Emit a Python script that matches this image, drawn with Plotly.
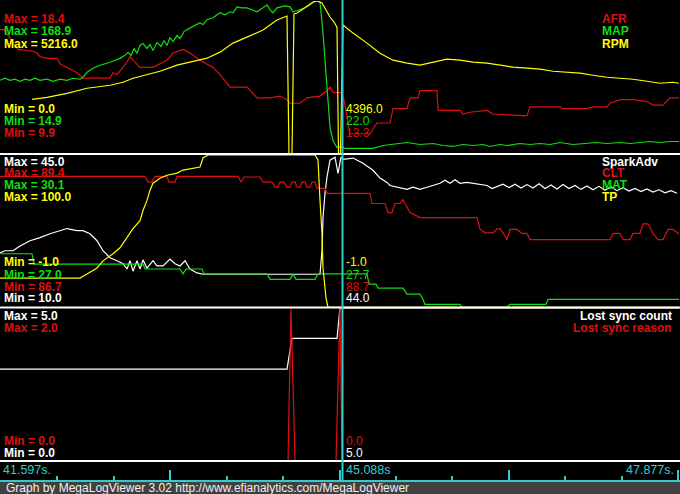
import plotly.graph_objects as go

W, H = 680, 494

# ---------------- data (x = log record index, y = channel values) ----------------
rec_range = [0, 680]
cursor_rec = 342.5
time_labels = ["41.597s.", "45.088s", "47.877s."]

# Panel 1: AFR / MAP / RPM
p1_names = ["AFR", "MAP", "RPM"]
p1_max = [18.4, 168.9, 5216.0]
p1_min = [9.9, 14.9, 0.0]
p1_cursor = [13.3, 22.0, 4396.0]

afr = [(0, 16.8), (4, 16.8), (18, 15.7), (33, 15.6), (37, 15.5), (40, 15.3), (47, 15.2), (57, 15.2),
       (60, 14.9), (67, 14.7), (77, 14.4), (83, 14.1), (110, 14.1), (113, 14.4), (117, 14.3), (123, 14.7),
       (127, 15.0), (130, 15.3), (133, 15.1), (140, 14.7), (153, 14.7), (160, 14.9), (167, 15.1),
       (173, 15.5), (183, 15.7), (190, 15.5), (200, 15.1), (213, 14.7), (220, 14.3), (230, 13.6),
       (247, 13.6), (257, 13.0), (270, 13.0), (280, 13.1), (287, 12.9), (290, 12.7), (300, 12.7),
       (307, 13.0), (320, 13.1), (327, 13.4), (330, 13.6), (333, 13.3), (341, 13.3), (344, 12.9),
       (350, 11.0), (370, 11.0), (377, 11.6), (390, 11.6), (393, 12.4), (407, 12.4), (410, 13.0),
       (418, 13.0), (420, 13.4), (437, 13.4), (438, 12.3), (460, 12.3), (463, 12.1), (470, 12.2),
       (487, 12.3), (493, 12.1), (527, 12.0), (530, 12.5), (560, 12.5), (563, 12.4), (587, 12.4),
       (593, 12.5), (607, 12.5), (610, 12.7), (620, 12.9), (633, 12.9), (647, 12.8), (653, 12.6),
       (663, 12.6), (670, 13.0), (679, 13.0)]

map_kpa = [(0, 88.8), (5, 90.9), (10, 88.8), (15, 89.9), (20, 87.8), (25, 89.9), (30, 88.8), (35, 90.9),
           (40, 88.8), (47, 89.9), (53, 87.8), (60, 89.9), (67, 88.8), (73, 90.9), (80, 89.9), (83, 91.9),
           (87, 96.9), (93, 101), (100, 104), (110, 107), (120, 111), (125, 114), (128, 117), (131, 114),
           (134, 121), (137, 116), (140, 124), (143, 126), (147, 121), (150, 125), (153, 119), (157, 127),
           (161, 123), (164, 129), (167, 124), (170, 132), (173, 128), (177, 134), (180, 131), (184, 138),
           (187, 140), (193, 143), (197, 145), (200, 147), (203, 145), (207, 150), (213, 152), (217, 155),
           (220, 157), (225, 155), (230, 158), (233, 157), (237, 163), (242, 162), (247, 162), (252, 160),
           (257, 158), (263, 162), (267, 165), (270, 160), (273, 157), (277, 162), (280, 163), (285, 164),
           (290, 163), (293, 158), (297, 159), (300, 160), (305, 162), (310, 165), (314, 168), (317, 168.9),
           (320, 168), (323, 136.5), (327, 85.8), (330, 41.2), (333, 28.1), (337, 21), (341, 22), (345, 20),
           (360, 20), (373, 20), (383, 23), (397, 25), (407, 26), (420, 24), (433, 25), (443, 23), (453, 22),
           (463, 24), (473, 23), (483, 24), (490, 22), (500, 24), (507, 23), (520, 25), (530, 24), (540, 25),
           (550, 24), (560, 26), (573, 24), (585, 25), (595, 26), (607, 25), (620, 26), (630, 25), (640, 26),
           (650, 27), (660, 26), (670, 27), (679, 27)]

rpm = [(32, 1853), (47, 1922), (67, 2059), (87, 2231), (110, 2334), (123, 2437), (133, 2574), (147, 2711),
       (160, 2814), (177, 3020), (193, 3157), (207, 3260), (220, 3466), (233, 3775), (247, 3981),
       (263, 4221), (277, 4565), (287, 4702), (289, 0), (292, 0), (294, 4770), (297, 4805), (303, 4942),
       (313, 5182), (317, 5216), (322, 5148), (326, 4908), (330, 4668), (334, 4496), (337, 4324),
       (338.5, 0), (340.5, 0), (343, 4396), (353, 4118), (367, 3775), (380, 3432), (393, 3192), (407, 3089),
       (420, 3020), (433, 3123), (447, 3226), (460, 3192), (473, 3123), (487, 3089), (500, 3020),
       (513, 2952), (527, 2917), (540, 2883), (553, 2814), (567, 2780), (580, 2746), (593, 2677),
       (607, 2608), (620, 2574), (633, 2540), (647, 2471), (660, 2402), (673, 2437), (679, 2402)]

# Panel 2: SparkAdv / CLT / MAT / TP
p2_names = ["SparkAdv", "CLT", "MAT", "TP"]
p2_max = [45.0, 89.4, 30.1, 100.0]
p2_min = [10.0, 86.7, 27.0, -1.0]
p2_cursor = [44.0, 88.7, 27.7, -1.0]

spark_adv = [(0, 22.5), (5, 23.0), (13, 23.0), (20, 24.1), (30, 25.3), (40, 26.0), (50, 26.9), (60, 27.6),
             (67, 28.1), (77, 27.6), (83, 27.6), (90, 26.9), (97, 25.3), (103, 23.0), (110, 21.4),
             (117, 20.7), (123, 20.0), (127, 18.8), (130, 20.7), (133, 18.3), (137, 20.7), (140, 18.8),
             (143, 20.9), (147, 19.0), (153, 20.7), (157, 19.5), (163, 19.5), (170, 21.1), (175, 20.0),
             (180, 19.5), (185, 20.7), (190, 18.8), (197, 17.9), (203, 17.6), (320, 17.6), (322, 23.0),
             (323, 30.6), (325, 36.2), (327, 39.9), (330, 43.8), (333, 44.3), (335, 44.5), (338, 40.8),
             (341, 44.5), (343, 44.0), (353, 44.3), (363, 43.1), (373, 41.5), (380, 39.7), (387, 38.7),
             (390, 38.0), (397, 37.6), (407, 37.1), (413, 37.6), (420, 37.1), (427, 37.6), (433, 38.0),
             (440, 38.5), (445, 39.2), (450, 38.5), (455, 39.3), (460, 38.5), (467, 38.7), (473, 38.5),
             (480, 38.3), (487, 38.0), (492, 37.3), (497, 37.8), (503, 38.3), (509, 37.5), (515, 38.3),
             (521, 37.4), (527, 38.2), (533, 37.4), (539, 38.4), (545, 37.3), (551, 38.1), (557, 37.2),
             (563, 38.2), (569, 37.3), (575, 38.0), (581, 37.1), (587, 37.9), (593, 37.0), (599, 37.8),
             (605, 36.9), (611, 37.7), (617, 36.8), (623, 37.5), (629, 36.7), (635, 37.3), (641, 36.6),
             (647, 37.2), (653, 36.5), (659, 37.0), (665, 36.3), (671, 36.8), (677, 36.2)]

clt = [(0, 89.02), (145, 89.02), (148, 88.92), (152, 88.92), (155, 89.02), (167, 89.02), (169, 88.92),
       (175, 88.92), (177, 89.02), (238, 89.02), (241, 88.92), (244, 89.01), (260, 89.01), (263, 88.92),
       (272, 88.92), (275, 88.83), (278, 88.83), (280, 88.92), (284, 88.92), (287, 88.83), (290, 88.83),
       (292, 88.92), (295, 88.92), (297, 88.83), (300, 88.83), (302, 88.92), (305, 88.92), (307, 88.83),
       (310, 88.83), (312, 88.92), (315, 88.92), (317, 88.81), (325, 88.81), (327, 88.72), (370, 88.72),
       (372, 88.54), (385, 88.54), (388, 88.38), (392, 88.38), (395, 88.54), (400, 88.54), (403, 88.61),
       (405, 88.54), (410, 88.38), (420, 88.29), (477, 88.29), (480, 88.09), (485, 88.02), (493, 88.02),
       (497, 88.09), (500, 88.09), (503, 88.02), (507, 87.90), (510, 88.08), (517, 88.08), (522, 88.01),
       (527, 88.01), (530, 87.90), (610, 87.90), (613, 88.01), (620, 88.01), (623, 87.90), (630, 87.90),
       (633, 88.01), (640, 88.01), (643, 88.18), (648, 88.18), (653, 88.01), (658, 87.90), (663, 87.90),
       (668, 88.08), (673, 88.08), (679, 88.0)]

mat = [(0, 28.09), (32, 28.09), (34, 27.88), (143, 27.88), (145, 27.78), (180, 27.78), (183, 27.68),
       (186, 27.78), (202, 27.78), (204, 27.68), (267, 27.68), (270, 27.57), (290, 27.57), (293, 27.68),
       (296, 27.57), (315, 27.57), (318, 27.68), (343, 27.68), (367, 27.68), (369, 27.47), (376, 27.47),
       (378, 27.39), (403, 27.39), (407, 27.27), (420, 27.27), (423, 27.16), (425, 27.06), (460, 27.06),
       (462, 27.0), (507, 27.0), (510, 27.06), (546, 27.06), (548, 27.16), (679, 27.16)]

tp = [(0, 18.4), (80, 18.4), (87, 21.1), (97, 25.1), (103, 29.8), (113, 34.5), (120, 38.5), (127, 45.2),
      (133, 51.2), (140, 56.5), (143, 63.2), (147, 69.9), (150, 76.6), (153, 81.3), (160, 84.6),
      (167, 86.6), (177, 88.0), (183, 90.0), (200, 92.0), (203, 98.0), (208, 100), (315, 100),
      (318, 96.7), (320, 69.9), (322, 47.8), (323, 25.1), (326, 5.0), (328, -1), (679, -1)]

# Panel 3: Lost sync count / reason
p3_names = ["Lost sync count", "Lost sync reason"]
p3_max = [5.0, 2.0]
p3_min = [0.0, 0.0]
p3_cursor = [5.0, 0.0]

lost_sync_count = [(0, 3), (287, 3), (292, 4), (337, 4), (340, 5), (679, 5)]
lost_sync_reason = [(0, 0), (288, 0), (291, 2), (295, 0), (336, 0), (340, 2), (342, 0), (679, 0)]

# ---------------- styling ----------------
RED, GREEN, YELLOW, WHITE, CYAN = "#dd1010", "#10dd10", "#ffff00", "#ffffff", "#33cccc"
FONT = "Liberation Sans, Arial, sans-serif"


def py(p):
    return 1 - p / H


def pxf(p):
    return p / W


panels = [
    dict(top=1, bot=153.5, names=p1_names, mx=p1_max, mn=p1_min, cur=p1_cursor,
         series=[afr, map_kpa, rpm], colors=[RED, GREEN, YELLOW],
         max_rows=[18.5, 31, 43.5], min_rows=[108.5, 121, 133], leg_x=600, leg_align="left"),
    dict(top=155, bot=307.3, names=p2_names, mx=p2_max, mn=p2_min, cur=p2_cursor,
         series=[spark_adv, clt, mat, tp], colors=[WHITE, RED, GREEN, YELLOW],
         max_rows=[162, 173.5, 185.5, 197.5], min_rows=[262, 274.5, 286.5, 298], leg_x=600, leg_align="left"),
    dict(top=307.8, bot=461, names=p3_names, mx=p3_max, mn=p3_min, cur=p3_cursor,
         series=[lost_sync_count, lost_sync_reason], colors=[WHITE, RED],
         max_rows=[315.5, 327.5], min_rows=[440.5, 452.5], leg_x=674, leg_align="right"),
]

fig = go.Figure()
layout_axes = {}
annotations = []
axis_n = 0
for p in panels:
    base_name = None
    for i, (ser, col) in enumerate(zip(p["series"], p["colors"])):
        axis_n += 1
        yname = "y" if axis_n == 1 else f"y{axis_n}"
        lname = "yaxis" if axis_n == 1 else f"yaxis{axis_n}"
        ax = dict(range=[p["mn"][i], p["mx"][i]], visible=False, showgrid=False, zeroline=False,
                  fixedrange=True)
        if base_name is None:
            base_name = yname
            ax["domain"] = [py(p["bot"]), py(p["top"])]
            ax["anchor"] = "x"
        else:
            ax["overlaying"] = base_name
            ax["anchor"] = "x"
        layout_axes[lname] = ax
        xs = [r for r, _ in ser]
        ys = [v for _, v in ser]
        fig.add_trace(go.Scatter(x=xs, y=ys, mode="lines", xaxis="x", yaxis=yname,
                                 line=dict(color=col, width=1.2), hoverinfo="skip",
                                 name=p["names"][i], showlegend=False))

    n = len(p["names"])
    for i in range(n):
        col = p["colors"][i]
        annotations.append(dict(x=pxf(2), y=py(p["max_rows"][i]), xref="paper", yref="paper",
                                text=f"Max = {p['mx'][i]:.1f}", showarrow=False, xanchor="left",
                                yanchor="middle", font=dict(family=FONT, size=12, color=col, weight="bold")))
        annotations.append(dict(x=pxf(p["leg_x"]), y=py(p["max_rows"][i]), xref="paper", yref="paper",
                                text=p["names"][i], showarrow=False, xanchor=p["leg_align"],
                                yanchor="middle", font=dict(family=FONT, size=12, color=col, weight="bold")))
        j = n - 1 - i
        annotations.append(dict(x=pxf(2), y=py(p["min_rows"][i]), xref="paper", yref="paper",
                                text=f"Min = {p['mn'][j]:.1f}", showarrow=False, xanchor="left",
                                yanchor="middle",
                                font=dict(family=FONT, size=12, color=p["colors"][j], weight="bold")))
        annotations.append(dict(x=cursor_rec + 1, y=py(p["min_rows"][i]), xref="x", yref="paper",
                                text=f"{p['cur'][j]:.1f}", showarrow=False, xanchor="left",
                                yanchor="middle", font=dict(family=FONT, size=12, color=p["colors"][j])))

for txt, xpos, anch in [(time_labels[0], 1, "left"), (time_labels[1], cursor_rec + 1, "left"),
                        (time_labels[2], 676, "right")]:
    annotations.append(dict(x=xpos, y=py(469.5), xref="x", yref="paper", text=txt, showarrow=False,
                            xanchor=anch, yanchor="middle", font=dict(family=FONT, size=12.5, color=CYAN)))

annotations.append(dict(x=pxf(4), y=py(488), xref="paper", yref="paper",
                        text="Graph by MegaLogViewer 3.02 http://www.efianalytics.com/MegaLogViewer",
                        showarrow=False, xanchor="left", yanchor="middle",
                        font=dict(family=FONT, size=12, color="#f0f0f0")))

shapes = [
    dict(type="rect", xref="paper", yref="paper", x0=0, x1=1, y0=0, y1=py(482),
         fillcolor="#404040", line=dict(width=0), layer="below"),
]
for ypix in [154, 307.5, 461]:
    shapes.append(dict(type="line", xref="paper", yref="paper", x0=0, x1=1, y0=py(ypix), y1=py(ypix),
                       line=dict(color=WHITE, width=2), layer="above"))
shapes.append(dict(type="line", xref="x", yref="paper", x0=cursor_rec, x1=cursor_rec, y0=py(481), y1=1,
                   line=dict(color=CYAN, width=2), layer="above"))

fig.update_layout(
    width=W, height=H, margin=dict(l=0, r=0, t=0, b=0),
    paper_bgcolor="black", plot_bgcolor="black", showlegend=False,
    xaxis=dict(range=rec_range, domain=[0, 1], anchor="free", position=py(481), showgrid=False,
               zeroline=False, showline=True, linecolor=CYAN, linewidth=2, ticks="inside",
               tickcolor=CYAN, ticklen=10, tickwidth=2, tickmode="linear", tick0=1, dtick=169.25,
               showticklabels=False, fixedrange=True,
               minor=dict(ticks="inside", tick0=1, dtick=56.4167, ticklen=4, tickwidth=2, tickcolor=CYAN)),
    annotations=annotations, shapes=shapes,
    **layout_axes,
)

fig.write_html("out.html", config={"displayModeBar": False},
               post_script="document.body.style.margin='0';document.body.style.padding='0';"
                           "document.body.style.overflow='hidden';")
